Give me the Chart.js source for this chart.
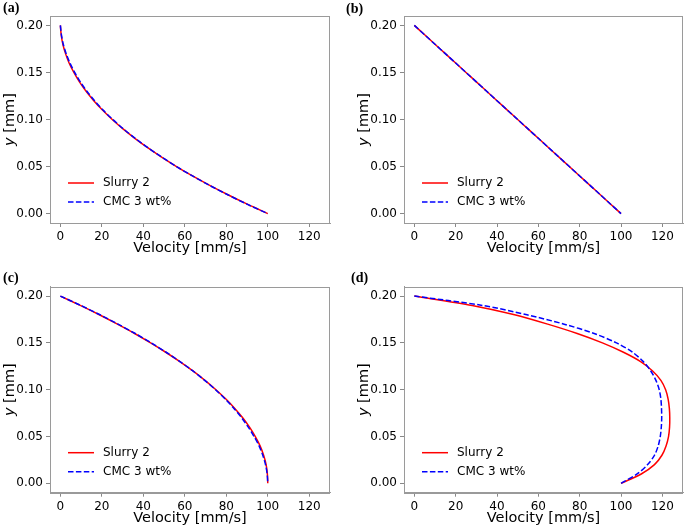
<!DOCTYPE html>
<html>
<head>
<meta charset="utf-8">
<script src="https://cdn.jsdelivr.net/npm/chart.js@4.4.1/dist/chart.umd.min.js"></script>
<style>
  body { margin: 0; background: #fff; }
  #wrap { position: relative; width: 685px; height: 527px; }
  .panel { position: absolute; }
  .tag { position: absolute; font-family: "Liberation Serif", serif; font-weight: bold; font-size: 14px; color: #000; }
</style>
</head>
<body>
<div id="wrap">
  <canvas id="cA" class="panel" width="342" height="262" style="left:0;top:0"></canvas>
  <canvas id="cB" class="panel" width="343" height="262" style="left:342px;top:0"></canvas>
  <canvas id="cC" class="panel" width="342" height="265" style="left:0;top:262px"></canvas>
  <canvas id="cD" class="panel" width="343" height="265" style="left:342px;top:262px"></canvas>
  <div class="tag" style="left:3px;top:0px">(a)</div>
  <div class="tag" style="left:346px;top:1px">(b)</div>
  <div class="tag" style="left:3px;top:270px">(c)</div>
  <div class="tag" style="left:351px;top:270px">(d)</div>
</div>
<script>
// y positions (mm), shared by all profiles, top to bottom
var yPos = [0.20,0.19,0.18,0.17,0.16,0.15,0.14,0.13,0.12,0.11,0.10,0.09,0.08,0.07,0.06,0.05,0.04,0.03,0.02,0.01,0.00]

// velocity (mm/s) at each yPos
var velA_slurry = [0,0.4,1.2,2.5,4.2,6.5,9.2,12.4,16.1,20.3,25.0,30.2,35.9,42.1,48.8,56.0,63.7,72.0,80.8,90.1,100]
var velA_cmc    = [0,0.5,1.4,2.8,4.6,6.9,9.6,12.8,16.5,20.6,25.3,30.4,36.1,42.2,48.9,56.0,63.7,71.9,80.7,90.0,100]

var velB_slurry = [0,5,10,15,20,25,30,35,40,45,50,55,60,65,70,75,80,85,90,95,100]
var velB_cmc    = [0,5,10,15,20,25,30,35,40,45,50,55,60,65,70,75,80,85,90,95,100]

var velC_slurry = [0,9.6,18.8,27.5,35.8,43.5,50.8,57.6,63.9,69.7,75.0,79.8,84.1,87.9,91.2,94.0,96.3,98.0,99.2,99.8,100]
var velC_cmc    = [0,9.8,19.1,27.8,36.1,43.8,51.0,57.7,63.9,69.6,74.8,79.5,83.7,87.4,90.6,93.4,95.8,97.6,98.9,99.7,100]

var velD_slurry = [0,28,48.5,64.5,78.8,91,101.2,109.5,115.3,119.3,121.6,122.8,123.4,123.6,123.5,123.0,121.8,119.8,116.2,109.8,100]
var velD_cmc    = [0,33,54.5,72.5,87,97.8,105.6,110.8,114.4,116.9,118.5,119.3,119.6,119.7,119.5,119.0,118.0,116.2,112.9,107.8,100]

var seriesNames = ["Slurry 2", "CMC 3 wt%"]
var xTicks = [0,20,40,60,80,100,120]
var yTicks = [0,0.05,0.10,0.15,0.20]

var FONT = "'DejaVu Sans', sans-serif"

function pts(vel){
    return vel.map(function(v,i){ return {x: v, y: yPos[i]} })
}

// frame, inside legend and italic y label
var extras = {
    id: 'extras',
    afterDraw: function(chart){
        var ctx = chart.ctx, a = chart.chartArea
        ctx.save()
        ctx.strokeStyle = '#9a9a9a'
        ctx.lineWidth = 1
        ctx.strokeRect(Math.round(a.left)+0.5, Math.round(a.top)+0.5, Math.round(a.right-a.left)-1, Math.round(a.bottom-a.top))

        // legend
        ctx.font = "12px " + FONT
        ctx.textBaseline = 'middle'
        ctx.fillStyle = '#000'
        chart.data.datasets.forEach(function(ds,i){
            var y = a.bottom - 40 + i*19
            ctx.beginPath()
            ctx.strokeStyle = ds.borderColor
            ctx.lineWidth = 1.5
            ctx.setLineDash(ds.borderDash || [])
            ctx.moveTo(a.left+18, y)
            ctx.lineTo(a.left+44, y)
            ctx.stroke()
            ctx.setLineDash([])
            ctx.fillText(ds.label, a.left+53, y)
        })

        // y axis label
        ctx.translate(a.left-40, (a.top+a.bottom)/2)
        ctx.rotate(-Math.PI/2)
        var f1 = "italic 14.5px " + FONT, f2 = "14.5px " + FONT
        ctx.font = f1; var w1 = ctx.measureText('y').width
        ctx.font = f2; var w2 = ctx.measureText(' [mm]').width
        var x0 = -(w1+w2)/2
        ctx.textAlign = 'left'
        ctx.font = f1; ctx.fillText('y', x0, 0)
        ctx.font = f2; ctx.fillText(' [mm]', x0+w1, 0)
        ctx.restore()
    }
}

function makeChart(id, slurry, cmc, pad, yW, xH){
    new Chart(document.getElementById(id).getContext('2d'), {
        type: 'scatter',
        data: {
            datasets: [
                { label: seriesNames[0], data: pts(slurry), showLine: true, borderColor: '#ff0000',
                  borderWidth: 1.5, pointRadius: 0, tension: 0.3, fill: false, order: 1 },
                { label: seriesNames[1], data: pts(cmc), showLine: true, borderColor: '#0000ff',
                  borderWidth: 1.5, borderDash: [5.5, 2.4], pointRadius: 0, tension: 0.3, fill: false, order: 0 }
            ]
        },
        options: {
            responsive: false,
            animation: false,
            layout: { padding: pad },
            plugins: { legend: { display: false }, tooltip: { enabled: false } },
            scales: {
                x: {
                    type: 'linear', min: -5, max: 130,
                    afterBuildTicks: function(s){ s.ticks = xTicks.map(function(v){ return {value: v} }) },
                    afterFit: function(s){ s.height = xH },
                    grid: { drawOnChartArea: false, drawTicks: true, tickLength: 4, color: '#888' },
                    border: { display: true, color: '#9a9a9a' },
                    ticks: { color: '#000', font: { family: FONT, size: 12 }, padding: 3, maxRotation: 0,
                             callback: function(v){ return v } },
                    title: { display: true, text: 'Velocity [mm/s]', color: '#000',
                             font: { family: FONT, size: 14.5 }, padding: { top: 0, bottom: 0 } }
                },
                y: {
                    type: 'linear', min: -0.01, max: 0.21,
                    afterBuildTicks: function(s){ s.ticks = yTicks.map(function(v){ return {value: v} }) },
                    afterFit: function(s){ s.width = yW },
                    grid: { drawOnChartArea: false, drawTicks: true, tickLength: 4, color: '#888' },
                    border: { display: true, color: '#9a9a9a' },
                    ticks: { color: '#000', font: { family: FONT, size: 12 }, padding: 3,
                             callback: function(v){ return v.toFixed(2) } }
                }
            }
        },
        plugins: [extras]
    })
}

makeChart('cA', velA_slurry, velA_cmc, {left: 0, top: 16, right: 12, bottom: 4.6}, 50, 34.4)
makeChart('cB', velB_slurry, velB_cmc, {left: 11, top: 16, right: 2, bottom: 4.6}, 51, 34.4)
makeChart('cC', velC_slurry, velC_cmc, {left: 0, top: 24.7, right: 12, bottom: 0}, 50, 34.3)
makeChart('cD', velD_slurry, velD_cmc, {left: 11, top: 24.7, right: 2, bottom: 0}, 51, 34.3)
</script>
</body>
</html>
